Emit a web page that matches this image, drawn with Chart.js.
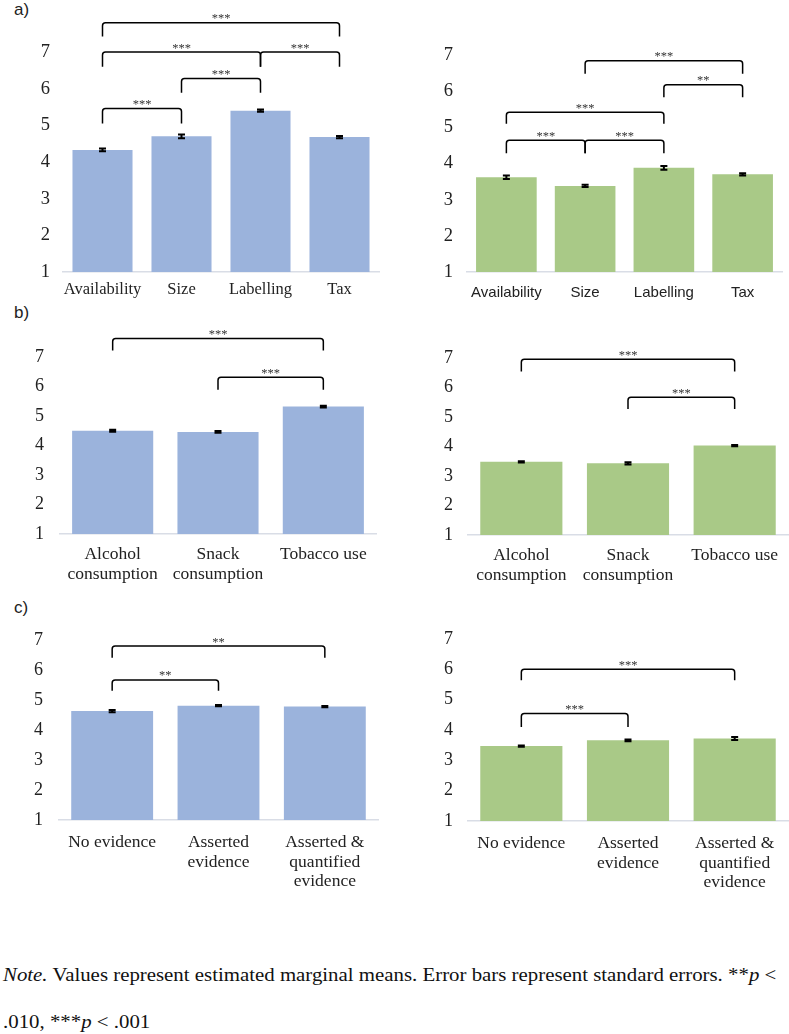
<!DOCTYPE html>
<html>
<head>
<meta charset="utf-8">
<script src="https://cdn.jsdelivr.net/npm/chart.js@4.4.1/dist/chart.umd.min.js"></script>
<style>
    body { margin: 0; background: #fff; width: 789px; height: 1034px; position: relative; overflow: hidden; }
    .panel { position: absolute; }
    .tag { position: absolute; font-family: "Liberation Sans", Arial, sans-serif; font-size: 17px; color: #222; line-height: 20px; }
    .note { position: absolute; left: 3px; font-family: "Liberation Serif", "Times New Roman", serif; font-size: 18px; color: #111; white-space: nowrap; line-height: 22px; transform: scaleX(1.158); transform-origin: 0 50%; }
</style>
</head>
<body>
<div class="tag" style="left:14px;top:0px">a)</div>
<div class="tag" style="left:14px;top:303px">b)</div>
<div class="tag" style="left:14px;top:598px">c)</div>

<div class="panel" style="left:0;top:0"><canvas id="aL" width="395" height="310"></canvas></div>
<div class="panel" style="left:400px;top:0"><canvas id="aR" width="389" height="310"></canvas></div>
<div class="panel" style="left:0;top:310px"><canvas id="bL" width="395" height="280"></canvas></div>
<div class="panel" style="left:400px;top:310px"><canvas id="bR" width="389" height="280"></canvas></div>
<div class="panel" style="left:0;top:590px"><canvas id="cL" width="395" height="310"></canvas></div>
<div class="panel" style="left:400px;top:590px"><canvas id="cR" width="389" height="310"></canvas></div>

<div class="note" style="top:964px"><i>Note.</i> Values represent estimated marginal means. Error bars represent standard errors. **<i>p</i> &lt;</div>
<div class="note" style="top:1011px">.010, ***<i>p</i> &lt; .001</div>

<script>
// Categories
const policyLabels = ['Availability', 'Size', 'Labelling', 'Tax'];
const behaviourLabels = [['Alcohol', 'consumption'], ['Snack', 'consumption'], 'Tobacco use'];
const evidenceLabels = ['No evidence', ['Asserted', 'evidence'], ['Asserted &', 'quantified', 'evidence']];
const yTicks = [1, 2, 3, 4, 5, 6, 7];

// Means and standard errors
const policyMeansBlue = [4.33, 4.70, 5.40, 4.68];
const policyErrBlue = [0.04, 0.05, 0.03, 0.03];
const policyMeansGreen = [3.62, 3.38, 3.88, 3.70];
const policyErrGreen = [0.05, 0.03, 0.05, 0.03];

const behaviourMeansBlue = [4.50, 4.46, 5.32];
const behaviourErrBlue = [0.03, 0.03, 0.03];
const behaviourMeansGreen = [3.48, 3.43, 4.03];
const behaviourErrGreen = [0.02, 0.04, 0.02];

const evidenceMeansBlue = [4.63, 4.81, 4.78];
const evidenceErrBlue = [0.04, 0.02, 0.02];
const evidenceMeansGreen = [3.47, 3.66, 3.72];
const evidenceErrGreen = [0.02, 0.03, 0.05];

// Significance brackets: [from, to, top value, leg end value, label]
const policyBracketsBlue = [[0, 1, 5.46, 5.05, '***'], [1, 2, 6.28, 5.89, '***'], [0, 2, 7.0, 6.6, '***'], [2, 3, 7.0, 6.6, '***'], [0, 3, 7.8, 7.42, '***']];
const policyBracketsGreen = [[0, 1, 4.64, 4.28, '***'], [1, 2, 4.64, 4.28, '***'], [0, 2, 5.42, 5.1, '***'], [2, 3, 6.18, 5.83, '**'], [1, 3, 6.84, 6.48, '***']];
const behaviourBracketsBlue = [[0, 2, 7.63, 7.22, '***'], [1, 2, 6.31, 5.89, '***']];
const behaviourBracketsGreen = [[0, 2, 6.96, 6.54, '***'], [1, 2, 5.67, 5.27, '***']];
const evidenceBracketsBlue = [[0, 1, 5.67, 5.31, '**'], [0, 2, 6.8, 6.41, '**']];
const evidenceBracketsGreen = [[0, 1, 4.54, 4.1, '***'], [0, 2, 6.0, 5.64, '***']];

const BLUE = '#9bb3dc';
const GREEN = '#a9c987';
const SERIF = '"Liberation Serif", "Times New Roman", serif';
const SANS = '"Liberation Sans", Arial, sans-serif';

// Draws error bars and significance brackets using the chart's own scales
const annotatePlugin = {
    id: 'annotate',
    afterDraw(chart, args, opts) {
        const ctx = chart.ctx;
        const y = chart.scales.y;
        const meta = chart.getDatasetMeta(0);
        const means = chart.data.datasets[0].data;
        ctx.save();
        ctx.strokeStyle = '#000';
        ctx.lineWidth = 2;
        opts.errors.forEach((e, i) => {
            const x = meta.data[i].x;
            const y1 = y.getPixelForValue(means[i] + e);
            const y2 = y.getPixelForValue(means[i] - e);
            ctx.beginPath();
            ctx.moveTo(x, y1); ctx.lineTo(x, y2);
            ctx.moveTo(x - 3.5, y1); ctx.lineTo(x + 3.5, y1);
            ctx.moveTo(x - 3.5, y2); ctx.lineTo(x + 3.5, y2);
            ctx.stroke();
        });
        ctx.lineWidth = 1.5;
        ctx.lineJoin = 'round';
        ctx.fillStyle = '#333';
        ctx.font = '12.5px ' + SERIF;
        ctx.textAlign = 'center';
        ctx.textBaseline = 'alphabetic';
        opts.brackets.forEach(([a, b, top, leg, label]) => {
            const x1 = meta.data[a].x;
            const x2 = meta.data[b].x;
            const yt = y.getPixelForValue(top);
            const yl = y.getPixelForValue(leg);
            ctx.beginPath();
            ctx.moveTo(x1, yl);
            ctx.arcTo(x1, yt, x2, yt, 3);
            ctx.arcTo(x2, yt, x2, yl, 3);
            ctx.lineTo(x2, yl);
            ctx.stroke();
            ctx.fillText(label, (x1 + x2) / 2, yt - 0.5);
        });
        ctx.restore();
    }
};

function makePanel(p) {
    const ctx = document.getElementById(p.id).getContext('2d');
    new Chart(ctx, {
        type: 'bar',
        data: {
            labels: p.labels,
            datasets: [{
                data: p.means,
                backgroundColor: p.color,
                borderWidth: 0,
                barPercentage: p.barPct,
                categoryPercentage: 1
            }]
        },
        options: {
            responsive: false,
            animation: false,
            layout: {
                padding: { top: p.area.t - p.box.y, right: p.box.x + p.box.w - p.area.r, left: 0, bottom: 0 }
            },
            plugins: {
                legend: { display: false },
                tooltip: { enabled: false },
                annotate: { errors: p.errors, brackets: p.brackets }
            },
            scales: {
                x: {
                    grid: { display: false, drawTicks: false },
                    border: { display: true, color: '#d9dde6', width: 1.5 },
                    ticks: {
                        color: '#222',
                        font: p.xFont,
                        padding: p.xPad,
                        maxRotation: 0,
                        autoSkip: false
                    },
                    afterFit: s => { s.height = p.box.y + p.box.h - p.area.b; }
                },
                y: {
                    min: 1,
                    max: 7,
                    afterBuildTicks: s => { s.ticks = yTicks.map(v => ({ value: v })); },
                    grid: { display: false, drawTicks: false },
                    border: { display: false },
                    ticks: {
                        color: '#222',
                        font: { family: SERIF, size: p.tickSize },
                        padding: p.tickPad
                    },
                    afterFit: s => { s.width = p.area.l - p.box.x; }
                }
            }
        },
        plugins: [annotatePlugin]
    });
}

const serifX = { family: SERIF, size: 17.5, lineHeight: 1.14 };

makePanel({
    id: 'aL', box: { x: 0, y: 0, w: 395, h: 310 }, area: { l: 63, t: 52, r: 379, b: 272 },
    labels: policyLabels, means: policyMeansBlue, errors: policyErrBlue, brackets: policyBracketsBlue,
    color: BLUE, barPct: 0.76, xFont: { family: SERIF, size: 16.5 }, xPad: 8, tickSize: 18.5, tickPad: 13
});
makePanel({
    id: 'aR', box: { x: 400, y: 0, w: 389, h: 310 }, area: { l: 467, t: 55, r: 782, b: 272 },
    labels: policyLabels, means: policyMeansGreen, errors: policyErrGreen, brackets: policyBracketsGreen,
    color: GREEN, barPct: 0.77, xFont: { family: SANS, size: 15 }, xPad: 12, tickSize: 18.5, tickPad: 14
});
makePanel({
    id: 'bL', box: { x: 0, y: 310, w: 395, h: 280 }, area: { l: 60, t: 357, r: 376, b: 534 },
    labels: behaviourLabels, means: behaviourMeansBlue, errors: behaviourErrBlue, brackets: behaviourBracketsBlue,
    color: BLUE, barPct: 0.77, xFont: serifX, xPad: 10, tickSize: 18, tickPad: 16
});
makePanel({
    id: 'bR', box: { x: 400, y: 310, w: 389, h: 280 }, area: { l: 468, t: 358, r: 788, b: 535 },
    labels: behaviourLabels, means: behaviourMeansGreen, errors: behaviourErrGreen, brackets: behaviourBracketsGreen,
    color: GREEN, barPct: 0.77, xFont: serifX, xPad: 10, tickSize: 18, tickPad: 15
});
makePanel({
    id: 'cL', box: { x: 0, y: 590, w: 395, h: 310 }, area: { l: 59, t: 640, r: 378, b: 820 },
    labels: evidenceLabels, means: evidenceMeansBlue, errors: evidenceErrBlue, brackets: evidenceBracketsBlue,
    color: BLUE, barPct: 0.77, xFont: serifX, xPad: 12, tickSize: 18, tickPad: 16
});
makePanel({
    id: 'cR', box: { x: 400, y: 590, w: 389, h: 310 }, area: { l: 468, t: 639, r: 788, b: 821 },
    labels: evidenceLabels, means: evidenceMeansGreen, errors: evidenceErrGreen, brackets: evidenceBracketsGreen,
    color: GREEN, barPct: 0.77, xFont: serifX, xPad: 12, tickSize: 18, tickPad: 15
});
</script>
</body>
</html>
